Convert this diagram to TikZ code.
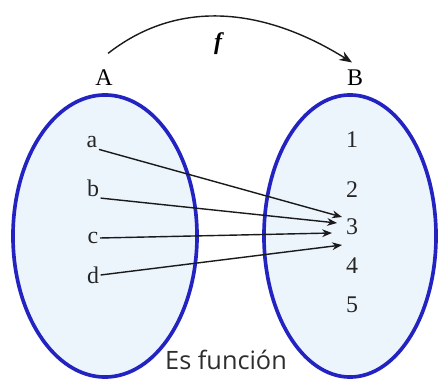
\documentclass[tikz,border=0pt]{standalone}
\usepackage{fontspec}
\setmainfont{Liberation Serif}
\newfontfamily\notefont{Open Sans}
\usepackage{tikz}
\usetikzlibrary{
  arrows.meta,
  shapes.geometric
}
\definecolor{setblue}{HTML}{2323C2}
\definecolor{setfill}{HTML}{ECF4FC}
\definecolor{notegrey}{HTML}{2E2E2E}
\definecolor{arrowdark}{HTML}{1A1A1A}
\tikzset{
  setbox/.style={
    ellipse, draw=setblue, fill=setfill, line width=2.6pt,
    minimum height=7.05cm, inner sep=0pt
  },
  elem/.style={
    font=\fontsize{17}{19}\selectfont, inner sep=1pt, text=black!85
  },
  setname/.style={
    font=\fontsize{17}{19}\selectfont, inner sep=1pt
  },
  maparrow/.style={
    -{Stealth[length=7pt,width=5.5pt]}, line width=1pt, color=arrowdark
  },
  funarrow/.style={
    -{Stealth[length=9pt,width=7pt]}, line width=1pt, color=arrowdark
  },
  note/.style={
    font=\notefont\fontsize{18}{20}\selectfont, color=notegrey
  },
}

\begin{document}
\begin{tikzpicture}[x=0.025cm, y=-0.025cm]
  \useasboundingbox (0,0) rectangle (439,379);
  \node[setbox, minimum width=4.6cm] (setA) at (105,236) {};
  \node[setbox, minimum width=4.3cm] (setB) at (350,236) {};

  \node[setname] (A) at (104,78) {A};
  \node[setname] (B) at (355,78) {B};
  \node[font=\fontsize{17}{19}\selectfont\bfseries\itshape] (f) at (218,44) {f};
  \draw[funarrow] ([shift={(4,-15)}]A.north) to[out=38,in=148] ([shift={(-3,-6)}]B.north);

  \node[elem] (a) at (92,142) {a};
  \node[elem] (b) at (93,188) {b};
  \node[elem] (c) at (93,238) {c};
  \node[elem] (d) at (93,275) {d};

  \node[elem] (n1) at (352,140) {1};
  \node[elem] (n2) at (352,190) {2};
  \node[elem] (n3) at (352,227) {3};
  \node[elem] (n4) at (352,266) {4};
  \node[elem] (n5) at (352,305) {5};

  \draw[maparrow] (a.south east) -- ([shift={(-10,-10)}]n3.center);
  \draw[maparrow] (b.south east) -- ([shift={(-15,-4)}]n3.center);
  \draw[maparrow] (c.east) -- ([shift={(-20,6)}]n3.center);
  \draw[maparrow] (d.east) -- ([shift={(-10,18)}]n3.center);

  \node[note] (es) at (226,360) {Es función};
\end{tikzpicture}
\end{document}
